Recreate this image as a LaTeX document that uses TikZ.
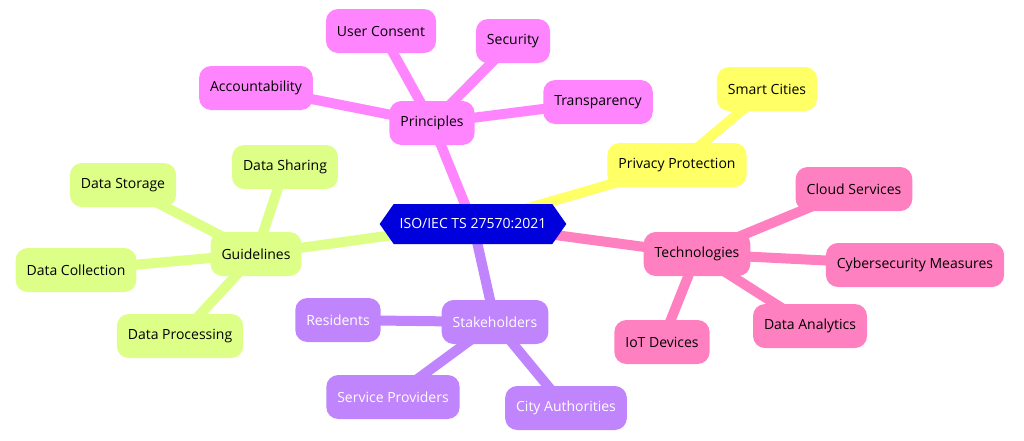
\documentclass[tikz,border=0pt]{standalone}
\usepackage{fontspec}
\setmainfont{Open Sans}
\usetikzlibrary{shapes.symbols,backgrounds}
\definecolor{cP}{HTML}{FF85FF}
\definecolor{cY}{HTML}{FFFF66}
\definecolor{cT}{HTML}{FF80C0}
\definecolor{cS}{HTML}{C084FC}
\definecolor{cG}{HTML}{DDFF88}
\definecolor{cR}{HTML}{0000DD}
\tikzset{
  bx/.style={rounded corners=12pt,minimum height=44pt,inner xsep=11pt,font=\fontsize{14}{16}\selectfont},
  edge/.style={line width=10pt,line cap=round},
}
\begin{document}
\begin{tikzpicture}[x=1pt,y=-1pt]
\useasboundingbox (0,0) rectangle (1024,440);
\node[signal,signal to=east and west,signal pointer angle=110,fill=cR,text=white,minimum height=40pt,inner xsep=6pt,font=\fontsize{14}{16}\selectfont] (root) at (473,224) {ISO/IEC TS 27570:2021};
\node[bx,fill=cP] (p) at (432,123) {Principles};
\node[bx,fill=cP] (p1) at (381,31) {User Consent};
\node[bx,fill=cP] (p2) at (513,41) {Security};
\node[bx,fill=cP] (p3) at (598,102) {Transparency};
\node[bx,fill=cP] (p4) at (256,88) {Accountability};
\node[bx,fill=cY] (y) at (677,165) {Privacy Protection};
\node[bx,fill=cY] (y1) at (767,89) {Smart Cities};
\node[bx,fill=cT] (t) at (697,254) {Technologies};
\node[bx,fill=cT] (t1) at (854,189) {Cloud Services};
\node[bx,fill=cT] (t2) at (915,265) {Cybersecurity Measures};
\node[bx,fill=cT] (t3) at (810,326) {Data Analytics};
\node[bx,fill=cT] (t4) at (662,342) {IoT Devices};
\node[bx,fill=cS,text=white] (s) at (495,322) {Stakeholders};
\node[bx,fill=cS,text=white] (s1) at (338,320) {Residents};
\node[bx,fill=cS,text=white] (s2) at (393,397) {Service Providers};
\node[bx,fill=cS,text=white] (s3) at (566,408) {City Authorities};
\node[bx,fill=cG] (g) at (256,254) {Guidelines};
\node[bx,fill=cG] (g1) at (285,167) {Data Sharing};
\node[bx,fill=cG] (g2) at (123,185) {Data Storage};
\node[bx,fill=cG] (g3) at (76,270) {Data Collection};
\node[bx,fill=cG] (g4) at (180,336) {Data Processing};
\begin{scope}[on background layer]
\draw[edge,cP] (root.center)--(p.center) (p.center)--(p1.center) (p.center)--(p2.center) (p.center)--(p3.center) (p.center)--(p4.center);
\draw[edge,cY] (root.center)--(y.center)--(y1.center);
\draw[edge,cT] (root.center)--(t.center) (t.center)--(t1.center) (t.center)--(t2.center) (t.center)--(t3.center) (t.center)--(t4.center);
\draw[edge,cS] (root.center)--(s.center) (s.center)--(s1.center) (s.center)--(s2.center) (s.center)--(s3.center);
\draw[edge,cG] (root.center)--(g.center) (g.center)--(g1.center) (g.center)--(g2.center) (g.center)--(g3.center) (g.center)--(g4.center);
\end{scope}
\end{tikzpicture}
\end{document}
